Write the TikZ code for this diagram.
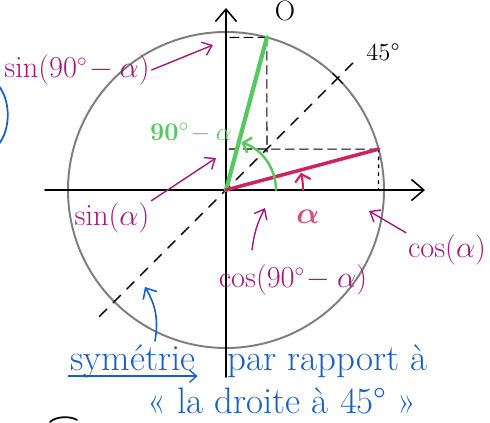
\documentclass[tikz,border=0pt]{standalone}
\usepackage{amsmath}
\usetikzlibrary{arrows.meta}
\definecolor{magenta}{RGB}{160,25,125}
\definecolor{alphared}{RGB}{205,35,95}
\definecolor{vert}{RGB}{85,200,95}
\definecolor{bleu}{RGB}{25,95,195}
\definecolor{cercle}{RGB}{125,125,125}
\begin{document}
\begin{tikzpicture}[line cap=round,line join=round,
    axe/.style={line width=0.9pt,-{Straight Barb[length=7pt,width=12pt]}},
    lbl/.style={text=magenta,font=\fontsize{16}{18}\selectfont,inner sep=1pt},
    fl/.style={line width=0.8pt,-{Straight Barb[length=5pt,width=8pt]}},
    bl/.style={text=bleu,font=\fontsize{21}{24}\selectfont,inner sep=1pt}]
  \useasboundingbox (-4.52,-4.66) rectangle (5.28,3.80);
  \coordinate (O) at (0,0);
  \coordinate (A) at (15:3.16);
  \coordinate (B) at (75:3.16);
  \coordinate (Ax) at (3.05,0);
  \coordinate (Ay) at (0,0.82);
  \coordinate (By) at (0,3.05);
  \coordinate (Bm) at (0.82,0.76);
  % cercle et axes
  \draw[line width=1.1pt,cercle] (O) circle (3.16);
  \draw[axe] (-3.62,0) -- (3.98,0);
  \draw[axe] (0,-3.74) -- (0,3.64);
  % droite a 45
  \draw[line width=0.8pt,dash pattern=on 6pt off 5pt] (225:3.58) -- (45:3.62);
  \draw[line width=0.6pt] (45:3.16) ++(-45:0.14) -- ++(135:0.28);
  % projections
  \draw[line width=0.6pt,dash pattern=on 5pt off 3pt] (B) -- (By);
  \draw[line width=0.6pt,dash pattern=on 5pt off 3pt] (B) -- (Bm);
  \draw[line width=0.6pt,dash pattern=on 5pt off 3pt] (A) -- (Ay);
  \draw[line width=0.8pt,dash pattern=on 1.5pt off 3pt] (A) -- (Ax);
  % angles
  \draw[line width=2.4pt,vert] (O) -- (B);
  \draw[line width=2pt,alphared] (O) -- (A);
  \draw[line width=1.4pt,vert,-{Straight Barb[length=4pt,width=9pt]}] (1.0,0) arc (0:72:1.0);
  \draw[line width=1.2pt,alphared,-{Straight Barb[length=4pt,width=9pt]}] (1.54,0) arc (0:13:1.54);
  \node[text=vert,font=\fontsize{15}{17}\selectfont\bfseries] (ang) at (-0.7,1.14) {$\mathbf{90^\circ\!-\alpha}$};
  \node[text=alphared!80,font=\fontsize{17}{19}\selectfont] (alpha) at (1.64,-0.54) {$\boldsymbol\alpha$};
  \node[font=\fontsize{16}{18}\selectfont,anchor=north,inner sep=0pt] (zero) at (1.18,3.79) {O};
  \node[font=\fontsize{14}{16}\selectfont] (qc) at (3.14,2.76) {45°};
  % etiquettes
  \node[lbl] (sinc) at (-2.98,2.4) {$\sin(90^\circ\!-\alpha)$};
  \node[lbl] (sina) at (-2.28,-0.56) {$\sin(\alpha)$};
  \node[lbl] (cosc) at (1.34,-1.8) {$\cos(90^\circ\!-\alpha)$};
  \node[lbl] (cosa) at (4.42,-1.2) {$\cos(\alpha)$};
  \coordinate (sincT) at (-0.26,2.9);
  \coordinate (sinaT) at (-0.2,0.64);
  \coordinate (coscT) at (0.78,-0.36);
  \coordinate (cosaT) at (2.86,-0.42);
  \draw[fl,magenta] (sinc.east) -- (sincT);
  \draw[fl,magenta] (sina.north east) -- (sinaT);
  \draw[fl,magenta] (0.52,-1.2) to[bend left=10] (coscT);
  \draw[fl,magenta] (cosa.north west) -- (cosaT);
  % symetrie
  \node[bl] (sym) at (-1.86,-3.42) {symétrie};
  \node[bl,anchor=base west] (par) at ([xshift=16pt]sym.base east) {par rapport à};
  \node[bl] (droite) at (1.12,-4.22) {« la droite à 45° »};
  \coordinate (symT) at (-1.62,-1.94);
  \draw[line width=0.8pt,bleu,-{Straight Barb[length=4pt,width=7pt]}] ([yshift=2pt]sym.south west) -- ([yshift=2pt]sym.south east);
  \draw[line width=0.9pt,bleu,-{Straight Barb[length=5pt,width=9pt]}] (-1.42,-3.02) to[bend right=20] (symT);
  % bords
  \draw[line width=1pt,bleu] (-4.56,2.1) .. controls (-4.3,1.8) and (-4.3,1.2) .. (-4.56,0.9);
  \draw[line width=1pt] (-3.52,-4.64) .. controls (-3.4,-4.52) and (-3.1,-4.52) .. (-2.98,-4.6);
\end{tikzpicture}
\end{document}
